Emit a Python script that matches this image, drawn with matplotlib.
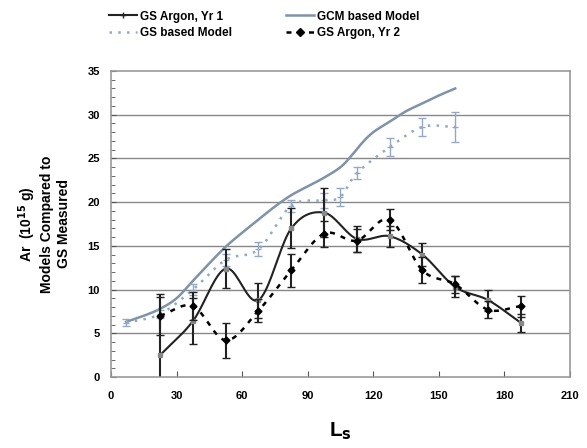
import numpy as np
import matplotlib.pyplot as plt
from matplotlib.ticker import MultipleLocator

plt.rcParams['font.family'] = ['Liberation Sans', 'DejaVu Sans']
plt.rcParams['font.weight'] = 'bold'

# GS Argon, Yr 1
yr1_x = [22.5, 37.5, 52.5, 67.5, 82.5, 97.5, 112.5, 127.5, 142.5, 157.5, 172.5, 187.5]
yr1_y = [2.5, 6.4, 12.4, 8.8, 17.0, 18.8, 15.8, 16.1, 14.0, 10.3, 8.8, 6.2]
yr1_err = [7.0, 2.6, 2.2, 2.0, 2.3, 2.8, 1.5, 1.2, 1.3, 1.2, 1.2, 1.0]

# GS Argon, Yr 2
yr2_x = [22.5, 37.5, 52.5, 67.5, 82.5, 97.5, 112.5, 127.5, 142.5, 157.5, 172.5, 187.5]
yr2_y = [7.0, 8.1, 4.2, 7.6, 12.2, 16.4, 15.6, 18.0, 12.2, 10.6, 7.7, 8.1]
yr2_err = [2.2, 1.6, 2.0, 1.3, 1.9, 1.5, 1.3, 1.2, 1.5, 1.0, 1.0, 1.2]

# GCM based Model
gcm_x = [7, 15, 22.5, 30, 37.5, 45, 52.5, 60, 67.5, 75, 82.5, 90, 97.5, 105, 110,
         115, 120, 127.5, 135, 142.5, 150, 157.5]
gcm_y = [6.3, 7.0, 7.8, 9.0, 11.0, 13.0, 14.9, 16.5, 18.0, 19.5, 20.8, 21.8, 22.8,
         24.0, 25.3, 26.8, 28.0, 29.2, 30.4, 31.3, 32.2, 33.0]

# GS based Model
gs_x = [7, 22.5, 37.5, 52.5, 67.5, 82.5, 97.5, 105, 112.5, 127.5, 142.5, 157.5]
gs_y = [6.2, 7.2, 10.0, 13.4, 14.6, 19.6, 20.2, 20.6, 23.3, 26.3, 28.6, 28.6]
gs_err = [0.4, 0.5, 0.6, 0.7, 0.8, 0.7, 0.9, 1.0, 0.7, 1.0, 1.0, 1.7]


def smooth(x, y, n=20):
    # Catmull-Rom style smoothing, similar to Excel's smoothed lines
    x = np.asarray(x, float)
    y = np.asarray(y, float)
    px = np.concatenate([[2 * x[0] - x[1]], x, [2 * x[-1] - x[-2]]])
    py = np.concatenate([[2 * y[0] - y[1]], y, [2 * y[-1] - y[-2]]])
    sx, sy = [], []
    t = np.linspace(0, 1, n, endpoint=False)
    for i in range(1, len(px) - 2):
        p0, p1, p2, p3 = px[i - 1], px[i], px[i + 1], px[i + 2]
        q0, q1, q2, q3 = py[i - 1], py[i], py[i + 1], py[i + 2]
        t2, t3 = t * t, t * t * t
        sx.append(0.5 * (2 * p1 + (-p0 + p2) * t + (2 * p0 - 5 * p1 + 4 * p2 - p3) * t2
                         + (-p0 + 3 * p1 - 3 * p2 + p3) * t3))
        sy.append(0.5 * (2 * q1 + (-q0 + q2) * t + (2 * q0 - 5 * q1 + 4 * q2 - q3) * t2
                         + (-q0 + 3 * q1 - 3 * q2 + q3) * t3))
    sx.append([x[-1]])
    sy.append([y[-1]])
    return np.concatenate(sx), np.concatenate(sy)


fig = plt.figure(figsize=(5.87, 4.48), dpi=100)
ax = fig.add_axes([0.189, 0.1585, 0.782, 0.683])

gcm_col = '#7f93a8'
gs_col = '#93a9c2'

for yv in range(5, 35, 5):
    ax.axhline(yv, color='#888888', lw=1.0, zorder=0)

# GCM model
sx, sy = smooth(gcm_x, gcm_y)
ax.plot(sx, sy, color=gcm_col, lw=1.8, label='GCM based Model')

# GS based model
sx, sy = smooth(gs_x, gs_y)
ax.plot(sx, sy, color=gs_col, lw=1.8, ls=(0, (1, 2.5)), label='GS based Model')
ax.errorbar(gs_x, gs_y, yerr=gs_err, fmt='none', ecolor=gs_col, elinewidth=1,
            capsize=3)
ax.plot(gs_x, gs_y, ls='none', marker='_', color=gs_col, ms=4)

# Yr 1
sx, sy = smooth(yr1_x, yr1_y)
ax.plot(sx, sy, color='#222222', lw=1.5)
ax.errorbar(yr1_x, yr1_y, yerr=yr1_err, fmt='none', ecolor='#222222',
            elinewidth=1.5, capsize=3)
ax.plot(yr1_x, yr1_y, ls='none', marker='s', color='#888888', ms=2.5)
ax.plot([], [], color='#222222', lw=1.5, marker='+', ms=5, label='GS Argon, Yr 1')

# Yr 2
sx, sy = smooth(yr2_x, yr2_y)
ax.plot(sx, sy, color='black', lw=1.8, ls=(0, (2, 2.5)))
ax.errorbar(yr2_x, yr2_y, yerr=yr2_err, fmt='none', ecolor='#222222',
            elinewidth=1.5, capsize=3)
ax.plot(yr2_x, yr2_y, ls='none', marker='D', color='black', ms=3.5)
ax.plot([], [], color='black', lw=1.8, ls=(0, (2, 2.5)), marker='D', ms=4,
        label='GS Argon, Yr 2')

ax.set_xlim(0, 210)
ax.set_ylim(0, 35)
ax.xaxis.set_major_locator(MultipleLocator(30))
ax.yaxis.set_major_locator(MultipleLocator(5))
ax.yaxis.set_minor_locator(MultipleLocator(1))
ax.tick_params(axis='both', which='both', direction='in', labelsize=8,
               colors='#555555', labelcolor='black')
ax.tick_params(axis='y', which='minor', length=3)
ax.tick_params(axis='y', which='major', pad=8)
ax.tick_params(axis='x', which='major', length=4, pad=10)
for s in ax.spines.values():
    s.set_color('#999999')
    s.set_linewidth(1.2)

ax.set_xlabel('L$_\\mathbf{s}$', fontsize=15, fontweight='bold', labelpad=14)
ax.set_ylabel('Ar  (10$^{\\mathbf{15}}$ g)\nModels Compared to\nGS Measured',
              fontsize=10, fontweight='bold', labelpad=12, multialignment='center')

h, l = ax.get_legend_handles_labels()
order = ['GS Argon, Yr 1', 'GS based Model', 'GCM based Model', 'GS Argon, Yr 2']
hh = [h[l.index(o)] for o in order]
fig.legend(hh, order, loc='upper center', bbox_to_anchor=(0.45, 1.0), ncol=2,
           frameon=False, fontsize=8.5, columnspacing=4.5, handlelength=2.4,
           handletextpad=0.3, labelspacing=0.4)

fig.savefig('out.png', dpi=100)
